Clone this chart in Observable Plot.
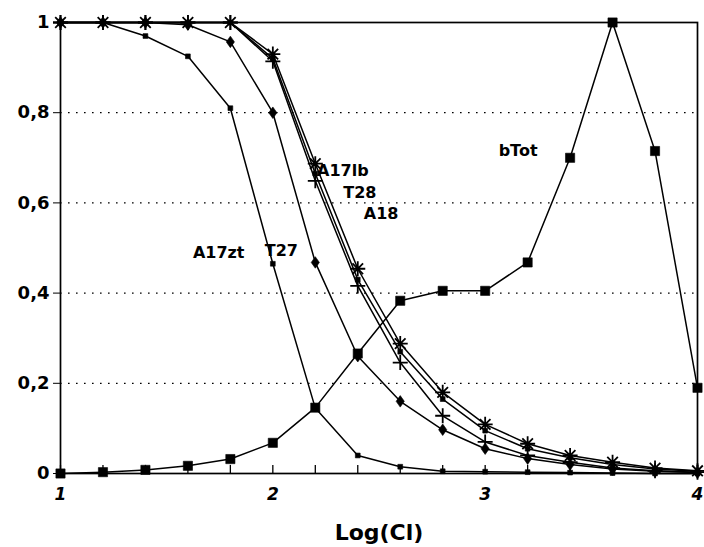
<!DOCTYPE html>
<html>
<head>
<meta charset="utf-8">
<script src="https://cdn.jsdelivr.net/npm/d3@7"></script>
<script src="https://cdn.jsdelivr.net/npm/@observablehq/plot@0.6"></script>
<style>
  html, body { margin: 0; padding: 0; background: #fff; }
  #chart svg { display: block; }
</style>
</head>
<body>
<div id="chart"></div>
<script>
// Fraction curves versus Log(Cl)
const logCl  = [1, 1.2, 1.4, 1.6, 1.8, 2, 2.2, 2.4, 2.6, 2.8, 3, 3.2, 3.4, 3.6, 3.8, 4];
const A17zt  = [1, 1, 0.97, 0.925, 0.81, 0.465, 0.145, 0.04, 0.015, 0.005, 0.004, 0.003, 0.002, 0.001, 0, 0];
const T27    = [1, 1, 1, 0.995, 0.957, 0.80, 0.468, 0.26, 0.16, 0.097, 0.055, 0.033, 0.02, 0.01, 0.005, 0.002];
const A17lb  = [1, 1, 1, 1, 1, 0.93, 0.687, 0.454, 0.288, 0.18, 0.109, 0.066, 0.04, 0.025, 0.012, 0.006];
const T28    = [1, 1, 1, 1, 1, 0.914, 0.649, 0.416, 0.246, 0.128, 0.07, 0.04, 0.025, 0.012, 0.006, 0.003];
const A18    = [1, 1, 1, 1, 1, 0.92, 0.665, 0.43, 0.27, 0.165, 0.095, 0.055, 0.035, 0.02, 0.01, 0.005];
const bTot   = [0, 0.003, 0.008, 0.017, 0.032, 0.068, 0.146, 0.266, 0.383, 0.405, 0.405, 0.468, 0.70, 1.0, 0.715, 0.19];

const yTicks = [0, 0.2, 0.4, 0.6, 0.8, 1];
const xTicks = [1, 2, 3, 4];
const minorTicks = [1, 1.2, 1.4, 1.6, 1.8, 2, 2.2, 2.4, 2.6, 2.8, 3, 3.2, 3.4, 3.6, 3.8, 4];

// curve labels, placed in data coordinates
const labelText = ["A17zt", "T27", "A17lb", "T28", "A18", "bTot"];
const labelX    = [1.745, 2.04, 2.33, 2.41, 2.51, 3.155];
const labelY    = [0.49, 0.494, 0.671, 0.623, 0.576, 0.715];

// marker shapes
const rad = (size) => Math.sqrt(size / Math.PI);
const squareSym = { draw(ctx, size) { const r = rad(size); ctx.rect(-r, -r, 2 * r, 2 * r); } };
const diamondSym = { draw(ctx, size) {
  const r = rad(size);
  ctx.moveTo(0, -1.2 * r); ctx.lineTo(0.85 * r, 0); ctx.lineTo(0, 1.2 * r); ctx.lineTo(-0.85 * r, 0); ctx.closePath();
} };
const plusSym = { draw(ctx, size) {
  const r = rad(size);
  ctx.moveTo(-r, 0); ctx.lineTo(r, 0); ctx.moveTo(0, -r); ctx.lineTo(0, r);
} };
const starSym = { draw(ctx, size) {
  const r = rad(size);
  for (let i = 0; i < 4; i++) {
    const a = i * Math.PI / 4, c = Math.cos(a) * r, s = Math.sin(a) * r;
    ctx.moveTo(c, s); ctx.lineTo(-c, -s);
  }
} };

const series = [
  { name: "A17zt", values: A17zt, symbol: squareSym, r: 2.4, filled: true },
  { name: "T27",   values: T27,   symbol: diamondSym, r: 4.8, filled: true },
  { name: "A17lb", values: A17lb, symbol: starSym,   r: 7.5, filled: false },
  { name: "T28",   values: T28,   symbol: plusSym,   r: 7.5, filled: false },
  { name: "A18",   values: A18,   symbol: squareSym, r: 2.4, filled: true },
  { name: "bTot",  values: bTot,  symbol: squareSym, r: 4.6, filled: true }
];

const rows = series.flatMap(s => logCl.map((x, i) => ({ series: s.name, x, y: s.values[i] })));
const labels = labelText.map((t, i) => ({ t, x: labelX[i], y: labelY[i] }));

const fmt = d => (d === 0 || d === 1) ? String(d) : d.toFixed(1).replace(".", ",");

const marks = [
  Plot.ruleY([0.2, 0.4, 0.6, 0.8], { stroke: "black", strokeWidth: 1.2, strokeDasharray: "1.6,6.4" }),
  Plot.ruleX(minorTicks, { x: d => d, y1: 0, y2: 0.018, stroke: "black", strokeWidth: 1.3 }),
  Plot.frame({ stroke: "black", strokeWidth: 1.7 }),
  Plot.axisY({ ticks: yTicks, tickFormat: fmt, tickSize: 7, tickPadding: 4, fontSize: 18, fontWeight: "bold", label: null }),
  Plot.axisX({ ticks: xTicks, tickFormat: d => String(d), tickSize: 0, tickPadding: 14, fontSize: 17, fontWeight: "bold", fontStyle: "italic", label: null }),
  Plot.line(rows, { x: "x", y: "y", z: "series", stroke: "black", strokeWidth: 1.5 })
];

for (const s of series) {
  marks.push(Plot.dot(rows.filter(d => d.series === s.name), {
    x: "x", y: "y", r: s.r, symbol: s.symbol,
    fill: s.filled ? "black" : "none", stroke: "black", strokeWidth: s.filled ? 0.6 : 1.8
  }));
}

marks.push(Plot.text(labels, { x: "x", y: "y", text: "t", fontSize: 16, fontWeight: "bold", fill: "black" }));
marks.push(Plot.text(["Log(Cl)"], { frameAnchor: "bottom", dy: 66, fontSize: 22, fontWeight: "bold", fill: "black" }));

const chart = Plot.plot({
  width: 704,
  height: 547,
  marginLeft: 60,
  marginRight: 7,
  marginTop: 22,
  marginBottom: 74,
  x: { domain: [1, 4] },
  y: { domain: [0, 1] },
  style: { fontFamily: "DejaVu Sans", background: "white", color: "black", overflow: "visible" },
  marks
});

document.getElementById("chart").appendChild(chart);
</script>
</body>
</html>
